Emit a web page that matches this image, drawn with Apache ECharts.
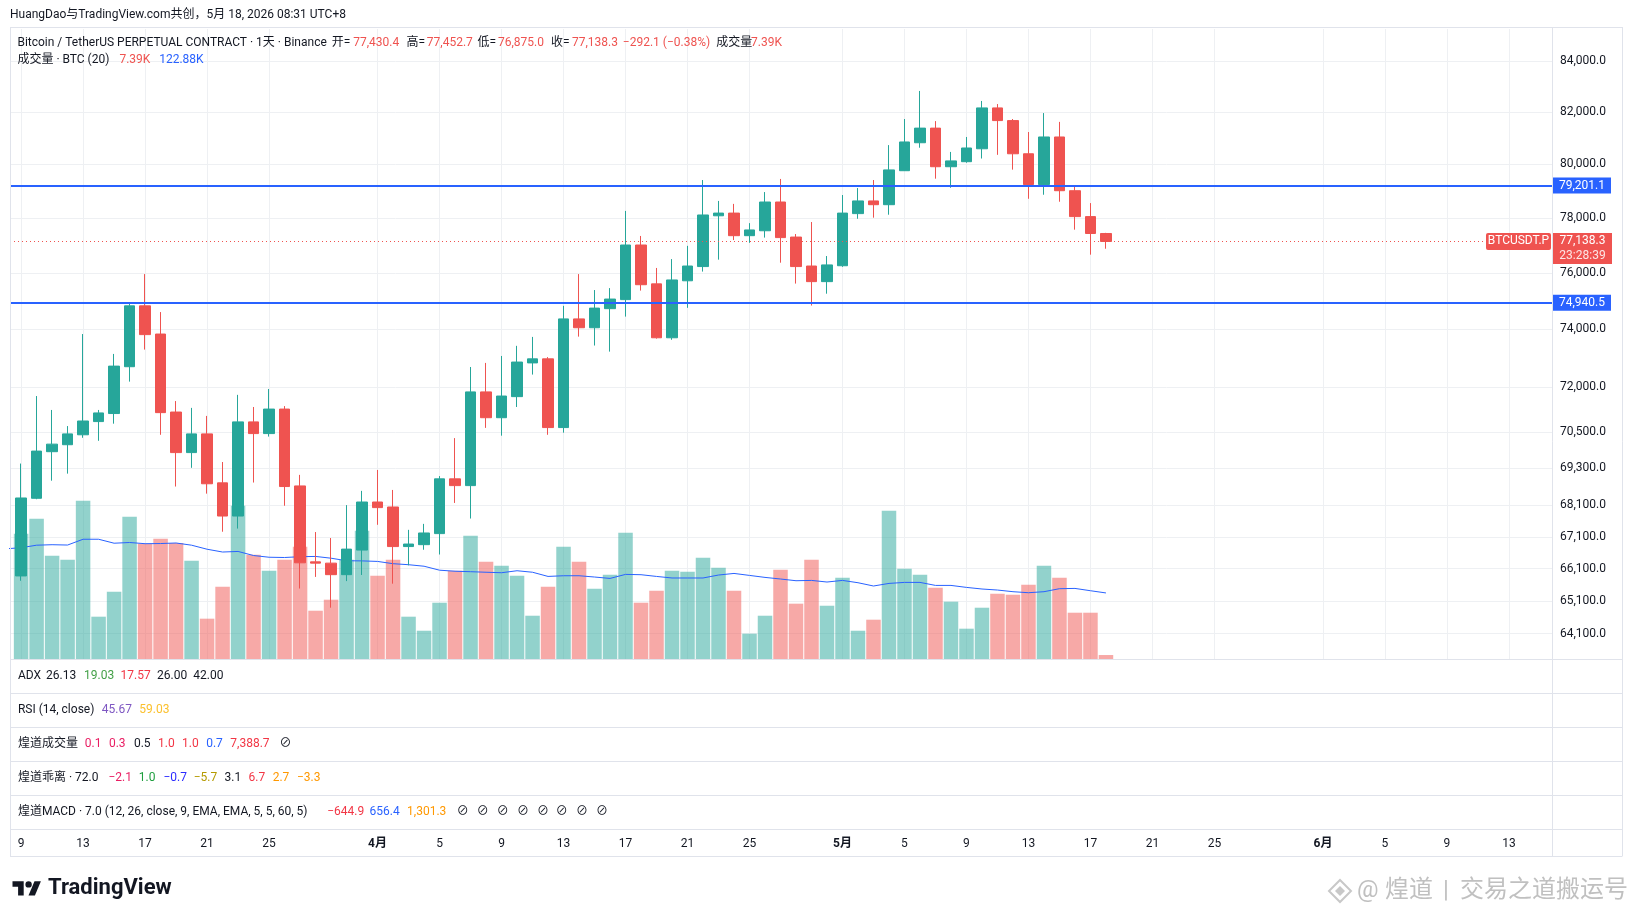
<!DOCTYPE html>
<html>
<head>
<meta charset="utf-8">
<script src="https://cdn.jsdelivr.net/npm/echarts@6/dist/echarts.min.js"></script>
<style>
  html, body { margin: 0; padding: 0; background: #fff; }
  #chart { width: 1634px; height: 917px; }
</style>
</head>
<body>
<div id="chart"></div>
<script>
// 日线 BTCUSDT.P，3月8日 - 5月18日
var dates = ['03-08','03-09','03-10','03-11','03-12','03-13','03-14','03-15','03-16','03-17','03-18','03-19','03-20','03-21','03-22','03-23','03-24','03-25','03-26','03-27','03-28','03-29','03-30','03-31',
  '04-01','04-02','04-03','04-04','04-05','04-06','04-07','04-08','04-09','04-10','04-11','04-12','04-13','04-14','04-15','04-16','04-17','04-18','04-19','04-20','04-21','04-22','04-23','04-24','04-25','04-26','04-27','04-28','04-29','04-30',
  '05-01','05-02','05-03','05-04','05-05','05-06','05-07','05-08','05-09','05-10','05-11','05-12','05-13','05-14','05-15','05-16','05-17','05-18'];
var opens = [67180, 65870, 68330, 69850, 70080, 70410, 70850, 71120, 72710, 74830, 73840, 71170, 69820, 70440, 68830, 67760, 70840, 70450, 71270, 68730, 66310, 66270, 65910, 66680,
  68210, 68050, 66790, 66850, 67200, 68960, 68740, 71850, 70980, 71690, 72840, 72980, 70650, 74370, 74060, 74730, 75050, 77010, 75610, 73710, 75720, 76230, 78080, 78180, 77350, 77530, 78590, 77300, 76250, 75690,
  76260, 78160, 78630, 78490, 79760, 80820, 81380, 79910, 80100, 80590, 82160, 81670, 80400, 79240, 81040, 79010, 78050, 77430.4];
var highs = [67300, 69460, 71710, 71240, 70700, 73840, 71240, 73150, 74900, 75960, 74610, 71540, 71310, 71040, 69510, 71750, 71340, 71950, 71370, 69090, 67250, 67060, 68110, 68570,
  69250, 68600, 67320, 67510, 69050, 70300, 72700, 72840, 73080, 73430, 73740, 73040, 74830, 75960, 75390, 75460, 78260, 77340, 76180, 76500, 76980, 79410, 78630, 78520, 77810, 78960, 79450, 77410, 77850, 76610,
  78850, 79110, 79410, 80730, 81730, 82820, 81650, 80470, 81040, 82430, 82310, 81730, 81230, 81960, 81620, 79160, 78550, 77452.7];
var lows = [65700, 65720, 68300, 68900, 69130, 70310, 70210, 70780, 72200, 73300, 70410, 68710, 69320, 68480, 67260, 67360, 68840, 70350, 68090, 65480, 65840, 64890, 65710, 65900,
  67480, 65630, 66200, 66690, 66540, 68180, 67680, 70640, 70380, 71340, 72440, 70410, 70480, 73750, 73440, 73230, 74450, 75370, 73680, 73640, 74760, 76050, 76480, 77190, 77090, 77280, 76370, 75620, 74840, 75260,
  76220, 77970, 78010, 78120, 79750, 80630, 79460, 79120, 80060, 80220, 80360, 79800, 78710, 78860, 78600, 77570, 76660, 76875.0];
var closes = [65870, 68340, 69870, 70100, 70440, 70870, 71140, 72730, 74830, 73820, 71150, 69820, 70440, 68800, 67760, 70840, 70450, 71270, 68710, 66280, 66270, 65910, 66710, 68210,
  68030, 66790, 66870, 67220, 68960, 68740, 71850, 70980, 71710, 72870, 72980, 70650, 74370, 74060, 74750, 75070, 77010, 75580, 73710, 75750, 76250, 78110, 78180, 77350, 77560, 78590, 77280, 76230, 75690, 76290,
  78180, 78630, 78490, 79790, 80850, 81380, 79910, 80130, 80620, 82160, 81670, 80400, 79240, 81040, 79010, 78050, 77430.4, 77138.3];
// 成交量 (K BTC) 与 20 日均量
var volumes = [153.6, 233.1, 261.0, 192.1, 184.7, 294.4, 78.7, 125.2, 264.7, 214.5, 223.8, 215.8, 182.8, 75.0, 134.5, 285.1, 194.0, 164.2, 184.7, 208.9, 89.8, 110.3, 184.7, 238.6,
  154.9, 184.7, 78.7, 52.6, 104.7, 164.2, 229.3, 181.0, 173.5, 154.9, 80.5, 134.5, 208.9, 181.0, 130.8, 156.8, 234.9, 104.7, 127.0, 164.2, 162.4, 188.4, 169.8, 127.0, 47.1, 80.5, 166.1, 102.9, 184.7, 99.1,
  151.2, 52.6, 73.1, 275.8, 168.0, 156.8, 132.6, 106.6, 56.4, 95.4, 121.5, 119.6, 138.2, 173.5, 151.2, 86.1, 86.1, 7.39];
var volMA = [205, 207.0, 211.7, 212.6, 212.0, 222.8, 222.8, 215.4, 216.7, 214.5, 214.8, 215.8, 211.7, 204.2, 199.0, 200.1, 192.5, 189.3, 188.8, 190.3, 190.8, 187.5, 182.8, 182.5,
  181.5, 177.3, 175.4, 172.6, 165.2, 163.3, 162.4, 161.4, 160.5, 164.2, 161.4, 153.6, 154.9, 154.9, 152.5, 149.9, 157.4, 156.8, 153.6, 150.7, 150.7, 150.7, 156.2, 159.2, 155.5, 151.8, 148.8, 145.6, 146.2, 143.2,
  146.2, 141.9, 135.8, 140.6, 142.5, 142.5, 136.9, 136.9, 133.2, 130.2, 128.3, 125.2, 123.3, 125.2, 130.8, 131.3, 127.0, 122.88];

var tickDates = ['03-09','03-13','03-17','03-21','03-25','04-01','04-05','04-09','04-13','04-17','04-21','04-25','05-01','05-05','05-09','05-13','05-17','05-21','05-25','06-01','06-05','06-09','06-13'];
var tickLabels = ['9','13','17','21','25','4月','5','9','13','17','21','25','5月','5','9','13','17','21','25','6月','5','9','13'];
var priceTicks = [84000, 82000, 80000, 78000, 76000, 74000, 72000, 70500, 69300, 68100, 67100, 66100, 65100, 64100];
var levels = [79201.1, 74940.5];
var countdown = '23:28:39';

// 布局
var PANE_TOP = 29, PANE_BOTTOM = 659, LEFT = 10, AXIS_X = 1552, RIGHT_EDGE = 1622;
var X_MIN = -0.716, X_MAX = 98.78;
var PMIN = 63337, PMAX = 85279, VOL_MAX = 1172;
var UP = '#26a69a', DOWN = '#ef5350', TXT = '#131722', BLUE = '#2962ff';
var FONT = 'Roboto, "Noto Sans CJK SC", sans-serif';

function dayIdx(s) {
  var p = s.split('-');
  return (Date.UTC(2026, +p[0] - 1, +p[1]) - Date.UTC(2026, 2, 9)) / 864e5;
}
function fmt(v) {
  return v.toLocaleString('en-US', {minimumFractionDigits: 1, maximumFractionDigits: 1}).replace('-', '−');
}
var tickDays = tickDates.map(dayIdx);
var ln = Math.log;

// 左边缘外的 3月8日 K 线只保留在均量线上
var candleData = [], volData = [];
dates.forEach(function (d, i) {
  var x = dayIdx(d);
  if (x < 0) return;
  candleData.push([x, ln(opens[i]), ln(closes[i]), ln(lows[i]), ln(highs[i])]);
  volData.push({
    value: [x, volumes[i]],
    itemStyle: {color: closes[i] >= opens[i] ? 'rgba(38,166,154,0.5)' : 'rgba(239,83,80,0.5)'}
  });
});
var maData = dates.map(function (d, i) { return [dayIdx(d), volMA[i]]; });

var chart = echarts.init(document.getElementById('chart'));
chart.setOption({
  animation: false,
  backgroundColor: '#ffffff',
  grid: [{left: LEFT, right: 1634 - AXIS_X, top: PANE_TOP, bottom: 917 - PANE_BOTTOM}],
  xAxis: [{
    type: 'value', min: X_MIN, max: X_MAX,
    axisLine: {show: false},
    axisTick: {show: false, customValues: tickDays},
    splitLine: {show: true, lineStyle: {color: '#eef0f3', width: 1}},
    axisLabel: {
      customValues: tickDays, margin: 179, color: TXT, fontSize: 12, fontFamily: FONT,
      formatter: function (v) {
        var s = tickLabels[tickDays.indexOf(Math.round(v))] || '';
        return s.indexOf('月') >= 0 ? '{m|' + s + '}' : s;
      },
      rich: {m: {fontWeight: 'bold', fontSize: 12, color: TXT, fontFamily: FONT}}
    }
  }],
  yAxis: [{
    type: 'value', position: 'right', min: ln(PMIN), max: ln(PMAX),
    axisLine: {show: false},
    axisTick: {show: false, customValues: priceTicks.map(ln)},
    splitLine: {show: true, lineStyle: {color: '#eef0f3', width: 1}},
    axisLabel: {
      customValues: priceTicks.map(ln), margin: 8, color: TXT, fontSize: 12, fontFamily: FONT,
      formatter: function (v) { return fmt(Math.round(Math.exp(v) * 10) / 10); }
    }
  }, {
    type: 'value', min: 0, max: VOL_MAX, show: false, splitLine: {show: false}
  }],
  series: [{
    type: 'bar', yAxisIndex: 1, data: volData, barWidth: 14.5, z: 1, silent: true
  }, {
    type: 'line', yAxisIndex: 1, data: maData, showSymbol: false, z: 2, silent: true,
    lineStyle: {color: BLUE, width: 1}
  }, {
    type: 'candlestick', yAxisIndex: 0, data: candleData, encode: {x: 0, y: [1, 2, 3, 4]},
    barWidth: 11, z: 3, silent: true,
    itemStyle: {color: UP, color0: DOWN, borderColor: UP, borderColor0: DOWN, borderWidth: 1},
    markLine: {
      silent: true, symbol: ['none', 'none'], animation: false, precision: 12,
      data: levels.map(function (v) {
        return {
          yAxis: ln(v),
          lineStyle: {color: BLUE, width: 2, type: 'solid'},
          label: {show: true, position: 'end', distance: 1, formatter: fmt(v),
            backgroundColor: BLUE, color: '#fff', padding: [2, 6], fontSize: 12, fontFamily: FONT}
        };
      }).concat([{
        yAxis: ln(closes[closes.length - 1]),
        lineStyle: {color: DOWN, width: 1, type: [1, 3]},
        label: {show: false}
      }])
    }
  }]
});

// 文字与框线
var els = [];
function txt(x, y, s, color, size, weight, align) {
  els.push({type: 'text', x: x, y: y, silent: true, z: 20,
    style: {text: s, fill: color || TXT, textAlign: align || 'left', textVerticalAlign: 'middle',
      font: (weight || 'normal') + ' ' + (size || 12) + 'px ' + FONT}});
}
function line(x1, y1, x2, y2, color) {
  els.push({type: 'line', silent: true, z: 15,
    shape: {x1: x1, y1: y1, x2: x2, y2: y2}, style: {stroke: color || '#e0e3eb', lineWidth: 1}});
}

var n = dates.length - 1;
var chg = closes[n] - closes[n - 1];
var pct = chg / closes[n - 1] * 100;

txt(10, 15, 'HuangDao与TradingView.com共创，5月 18, 2026 08:31 UTC+8');
txt(17.4, 42.7, 'Bitcoin / TetherUS PERPETUAL CONTRACT · 1天 · Binance');
txt(331.8, 42.7, '开='); txt(353.2, 42.7, fmt(opens[n]), DOWN);
txt(406.4, 42.7, '高='); txt(426.8, 42.7, fmt(highs[n]), DOWN);
txt(477.5, 42.7, '低='); txt(497.9, 42.7, fmt(lows[n]), DOWN);
txt(551.1, 42.7, '收='); txt(572, 42.7, fmt(closes[n]), DOWN);
txt(622.8, 42.7, fmt(chg) + ' (' + pct.toFixed(2).replace('-', '−') + '%)', DOWN);
txt(716.3, 42.7, '成交量'); txt(751.1, 42.7, volumes[n].toFixed(2) + 'K', DOWN);
txt(17.4, 60, '成交量 · BTC (20)');
txt(119.4, 60, volumes[n].toFixed(2) + 'K', DOWN);
txt(159.2, 60, volMA[n].toFixed(2) + 'K', BLUE);

// 指标窗格图例
var rows = [
  [676, [[17.9, 'ADX', TXT], [46, '26.13', TXT], [84, '19.03', '#43a047'], [120.5, '17.57', '#f23645'], [157, '26.00', TXT], [193.3, '42.00', TXT]]],
  [709.5, [[17.9, 'RSI (14, close)', TXT], [101.8, '45.67', '#7e57c2'], [139.3, '59.03', '#fbc02d']]],
  [744, [[17.9, '煌道成交量', TXT], [84.8, '0.1', '#e91e63'], [108.9, '0.3', '#e91e63'], [133.9, '0.5', TXT], [158, '1.0', '#f23645'], [182.1, '1.0', '#f23645'], [206.2, '0.7', BLUE], [230.3, '7,388.7', '#f23645'], [279.4, '⊘', TXT]]],
  [777.8, [[17.9, '煌道乖离 · 72.0', TXT], [108.5, '−2.1', '#e91e63'], [138.8, '1.0', '#1e9e3e'], [163.4, '−0.7', '#2b2bff'], [193.7, '−5.7', '#b59a00'], [224.5, '3.1', TXT], [248.6, '6.7', '#f23645'], [272.7, '2.7', '#ff9800'], [296.9, '−3.3', '#ff9800']]],
  [811.7, [[17.9, '煌道MACD · 7.0 (12, 26, close, 9, EMA, EMA, 5, 5, 60, 5)', TXT], [327.2, '−644.9', '#f23645'], [369.6, '656.4', BLUE], [407.1, '1,301.3', '#ff9800']]]
];
rows.forEach(function (r) { r[1].forEach(function (p) { txt(p[0], r[0], p[1], p[2]); }); });
[456.7, 476.7, 496.8, 516.9, 537, 555.8, 575.9, 595.9].forEach(function (x) { txt(x, 811.7, '⊘', TXT); });

// 边框与分隔线
line(LEFT + 0.5, 27, LEFT + 0.5, 856.5);
line(RIGHT_EDGE + 0.5, 27, RIGHT_EDGE + 0.5, 856.5);
line(LEFT, 27.5, RIGHT_EDGE, 27.5);
line(LEFT, 856.5, RIGHT_EDGE, 856.5);
line(AXIS_X + 0.5, 27, AXIS_X + 0.5, 856.5);
[659.5, 693.5, 727.5, 761.5, 795.5, 829.5].forEach(function (y) { line(LEFT, y, RIGHT_EDGE, y); });

// 最新价标签
var yLast = chart.convertToPixel({yAxisIndex: 0}, ln(closes[n]));
els.push({type: 'rect', silent: true, z: 18, shape: {x: 1486, y: yLast - 8.5, width: 65, height: 17, r: 2}, style: {fill: DOWN}});
txt(1518.5, yLast, 'BTCUSDT.P', '#fff', 12, 'normal', 'center');
els.push({type: 'rect', silent: true, z: 18, shape: {x: 1553, y: yLast - 8.5, width: 59, height: 31}, style: {fill: DOWN}});
txt(1582.5, yLast, fmt(closes[n]), '#fff', 12, 'normal', 'center');
txt(1582.5, yLast + 14.5, countdown, 'rgba(255,255,255,0.85)', 12, 'normal', 'center');

// TradingView 标志
els.push({type: 'polygon', silent: true, z: 20, shape: {points: [[12.5, 881.2], [23.7, 881.2], [23.7, 895.6], [18.1, 895.6], [18.1, 886.8], [12.5, 886.8]]}, style: {fill: TXT}});
els.push({type: 'circle', silent: true, z: 20, shape: {cx: 28.6, cy: 884.4, r: 3.2}, style: {fill: TXT}});
els.push({type: 'polygon', silent: true, z: 20, shape: {points: [[28.5, 895.6], [34.5, 881.2], [40.9, 881.2], [34.9, 895.6]]}, style: {fill: TXT}});
txt(48, 888, 'TradingView', TXT, 22, 'bold');

// 水印
els.push({type: 'polygon', silent: true, z: 20, shape: {points: [[1340, 880], [1351, 891], [1340, 902], [1329, 891]]}, style: {fill: 'none', stroke: '#c8c8c8', lineWidth: 2}});
els.push({type: 'polygon', silent: true, z: 20, shape: {points: [[1340, 886], [1345, 891], [1340, 896], [1335, 891]]}, style: {fill: '#c8c8c8'}});
txt(1357, 891, '@', '#c0c0c0', 24);
txt(1385, 891, '煌道', '#c0c0c0', 24);
txt(1443, 891, '|', '#c0c0c0', 24);
txt(1460, 891, '交易之道搬运号', '#c0c0c0', 24);

chart.setOption({graphic: els});
</script>
</body>
</html>
